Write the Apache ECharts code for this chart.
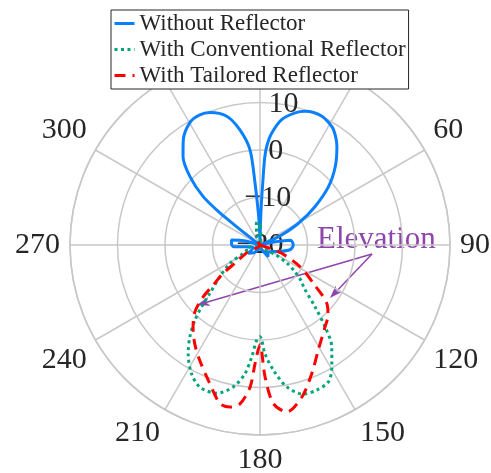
<!DOCTYPE html>
<html>
<head>
<meta charset="utf-8">
<script src="https://cdn.jsdelivr.net/npm/echarts@6/dist/echarts.min.js"></script>
<style>
  html, body { margin: 0; padding: 0; background: #fff; }
  #chart { width: 491px; height: 473px; }
</style>
</head>
<body>
<div id="chart"></div>
<script>
// pattern samples: [angle in deg, gain in dB]
const withoutReflector = [
  [0, -20], [1, -17], [1.8, -12], [2.6, -6.3], [3.1, -1.5], [4, 1], [6, 3.7], [9.8, 6.8],
  [14.9, 8.8], [18.7, 9.7], [22, 10.1], [25.7, 10.1], [29, 9.6], [32.5, 8.8], [38, 6.3],
  [43.8, 2.9], [49.5, -1], [55.1, -5.9], [60.5, -10.7], [65.3, -15], [68.3, -18.1], [73, -20],
  [78, -17], [81, -13.5], [90, -13], [99, -13.6], [110, -16], [120, -17.2], [132, -17.8],
  [145, -17], [160, -19], [180, -20], [200, -19], [217, -18], [235, -17], [250, -18.5],
  [262, -17.5], [266, -14.5], [272, -14], [280, -13.9], [285, -16.5], [292, -20], [305, -20],
  [307.5, -17.3], [308.1, -13.8], [308.7, -9.2], [310.4, -4.3], [314.3, 0.6], [319, 4.7],
  [323.9, 7.4], [330.2, 9.7], [335, 10.2], [339.3, 9.8], [345.5, 8.0], [350.1, 4.6],
  [354, 0.15], [355.4, -6.9], [357, -13], [358.5, -17], [360, -20]
];
const conventionalReflector = [
  [0, -16], [5, -18], [10, -20], [118, -20], [122, -16], [124, -13], [127, -11], [131.3, -8.3],
  [134, -7.2], [138.3, -2.6], [141.5, 2.0], [144.8, 6.2], [149.5, 9.8], [153.4, 12.2],
  [158.6, 12.8], [163.8, 12.7], [169.3, 10.4], [173.9, 6.5], [177.4, 2.9], [180, -0.7],
  [182, 0.05], [184.2, 3.6], [186.7, 7.3], [190.7, 10.4], [196.3, 12.5], [202.9, 12.5],
  [208, 10.7], [213.5, 7.4], [217.4, 4.3], [220.9, 0.9], [223.4, -2.1], [226, -5.3],
  [231.6, -9.2], [238.6, -12.6], [243.6, -16.1], [250, -17], [258, -17], [265, -20],
  [335, -20], [342, -18], [350, -15.5], [355, -15], [360, -16]
];
const tailoredReflector = [
  [0, -20], [105, -20], [108.3, -17.8], [110.9, -15.1], [118.5, -10.4], [125.7, -6.2],
  [131.2, -1.3], [136, 0.6], [141.5, 2.0], [151, 5.3], [158.1, 9.2], [164.6, 13.2],
  [170.9, 15.6], [175.2, 13.5], [177.8, 7.8], [180, 1], [182.4, 5], [184, 10], [187.2, 13.7],
  [190.5, 14.7], [194.2, 14.4], [200.9, 10.5], [207.6, 7.4], [213.5, 4.9], [219.2, 2.3],
  [224.3, -0.4], [227.6, -3.8], [229.4, -7.0], [232.4, -10.2], [234.4, -13.9], [240, -17],
  [250, -20], [300, -20], [320, -18.5], [340, -20], [360, -20]
];
const seriesNames = ['Without Reflector', 'With Conventional Reflector', 'With Tailored Reflector'];
const rTicks = [-20, -10, 0, 10, 20];
const thetaTicks = [0, 30, 60, 90, 120, 150, 180, 210, 240, 270, 300, 330];

const font = "'Liberation Serif', serif";
const gridColor = '#c8c8c8';
const textColor = '#262626';
const purple = '#8e44ad';
const cx = 260, cy = 245, R = 190;

// polar line data wants [radius, angle]
function toPolar(arr) {
  return arr.map(p => [p[1], p[0]]);
}

function arrow(x1, y1, x2, y2) {
  const a = Math.atan2(y2 - y1, x2 - x1);
  const len = 13, w = 4.5;
  const c = Math.cos(a), s = Math.sin(a);
  const bx = x2 - len * c, by = y2 - len * s;
  const nx = x2 - len * 0.7 * c, ny = y2 - len * 0.7 * s;
  return [
    {type: 'line', shape: {x1: x1, y1: y1, x2: nx, y2: ny}, style: {stroke: purple, lineWidth: 1.5}},
    {type: 'polygon', shape: {points: [[x2, y2], [bx - w * s, by + w * c], [nx, ny], [bx + w * s, by - w * c]]}, style: {fill: purple}}
  ];
}

const chart = echarts.init(document.getElementById('chart'));
chart.setOption({
  animation: false,
  color: ['#0a80ff', '#00a57a', '#ff0000'],
  polar: [
    {center: [cx, cy], radius: R},
    {center: [cx, cy], radius: R}
  ],
  angleAxis: [
    {
      polarIndex: 0,
      type: 'value',
      min: thetaTicks[0],
      max: 360,
      interval: 30,
      startAngle: 90,
      clockwise: true,
      axisLine: {lineStyle: {color: gridColor, width: 1.5}},
      axisTick: {show: false},
      axisLabel: {margin: 10, fontFamily: font, fontSize: 30, color: textColor},
      splitLine: {lineStyle: {color: gridColor, width: 1.5}}
    },
    {
      polarIndex: 1,
      type: 'value',
      min: 0,
      max: 360,
      startAngle: 80.5,
      clockwise: true,
      show: false
    }
  ],
  radiusAxis: [
    {
      polarIndex: 0,
      type: 'value',
      min: rTicks[0],
      max: rTicks[rTicks.length - 1],
      interval: 10,
      axisLine: {show: false},
      axisTick: {show: false},
      axisLabel: {show: false},
      splitLine: {lineStyle: {color: gridColor, width: 1.5}}
    },
    {
      polarIndex: 1,
      type: 'value',
      min: rTicks[0],
      max: rTicks[rTicks.length - 1],
      interval: 10,
      axisLine: {show: false},
      axisTick: {show: false},
      splitLine: {show: false},
      axisLabel: {
        margin: 0,
        align: 'center',
        verticalAlign: 'middle',
        fontFamily: font,
        fontSize: 30,
        color: textColor,
        formatter: v => String(v).replace('-', '\u2212')
      }
    }
  ],
  legend: {
    orient: 'vertical',
    left: 111,
    top: 10,
    padding: [2, 3, 2, 2],
    itemGap: 3,
    itemWidth: 20,
    itemHeight: 10,
    itemStyle: {opacity: 0},
    lineStyle: {width: 3},
    backgroundColor: '#fff',
    borderColor: textColor,
    borderWidth: 1,
    borderRadius: 0,
    textStyle: {fontFamily: font, fontSize: 23, lineHeight: 23, color: textColor},
    data: seriesNames
  },
  graphic: [
    {type: 'text', left: 317, top: 224, style: {text: 'Elevation', font: "31px 'Liberation Serif', serif", fill: purple}}
  ].concat(arrow(372, 254, 197, 305), arrow(372, 254, 330, 298)),
  series: [
    {
      name: seriesNames[0],
      type: 'line',
      coordinateSystem: 'polar',
      polarIndex: 0,
      symbol: 'none',
      smooth: 0.3,
      lineStyle: {width: 3},
      data: toPolar(withoutReflector)
    },
    {
      name: seriesNames[1],
      type: 'line',
      coordinateSystem: 'polar',
      polarIndex: 0,
      symbol: 'none',
      smooth: 0.3,
      lineStyle: {width: 3, type: [3, 3.5]},
      data: toPolar(conventionalReflector)
    },
    {
      name: seriesNames[2],
      type: 'line',
      coordinateSystem: 'polar',
      polarIndex: 0,
      symbol: 'none',
      smooth: 0.3,
      lineStyle: {width: 3, type: [11, 7]},
      data: toPolar(tailoredReflector)
    }
  ]
});
</script>
</body>
</html>
